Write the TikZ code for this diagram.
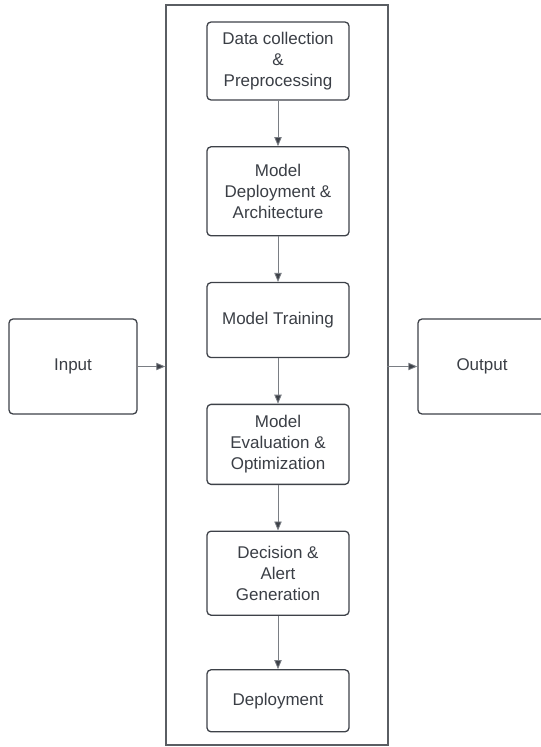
\documentclass[tikz,border=0pt]{standalone}
\usepackage{fontspec}
\setmainfont{Liberation Sans}
\usetikzlibrary{arrows.meta,positioning,fit}
\definecolor{edgegrey}{HTML}{3D4148}
\definecolor{linegrey}{HTML}{7A7E84}
\definecolor{textgrey}{HTML}{3A3E45}

\begin{document}
\begin{tikzpicture}[x=0.3mm,y=-0.3mm,node distance=13.65mm]

\tikzset{stepbox/.style={draw=edgegrey,line width=1.1pt,rounded corners=1.2mm,text=textgrey,align=center,
  font=\fontsize{14.5}{18}\selectfont,minimum width=42.6mm,inner sep=0pt},
sidebox/.style={stepbox,minimum width=38.4mm,minimum height=28.5mm},
frame/.style={draw=edgegrey!85,line width=1.2pt,inner sep=0pt},
flow/.style={draw=linegrey,line width=0.7pt,-{Triangle[length=2.7mm,width=2.2mm,fill=edgegrey]}}}

\useasboundingbox (0,0) rectangle (541,747);

% Outer frame
\coordinate (tl) at (166,5); \coordinate (br) at (388,745);
\node[frame,fit=(tl)(br)] (pipeline) {};

% Pipeline steps
\node[stepbox,minimum height=23.4mm] (s1) at (278,61) {Data collection\\\&\\Preprocessing};
\node[stepbox,minimum height=26.7mm,below=of s1] (s2) {Model\\Deployment \&\\Architecture};
\node[stepbox,minimum height=22.5mm,below=of s2] (s3) {Model Training};
\node[stepbox,minimum height=24mm,below=of s3] (s4) {Model\\Evaluation \&\\Optimization};
\node[stepbox,minimum height=25.2mm,below=of s4] (s5) {Decision \&\\Alert\\Generation};
\node[stepbox,minimum height=18.6mm,below=16mm of s5] (s6) {Deployment};

% Input / Output
\node[sidebox] (input) at (73,366.5) {Input};
\node[sidebox] (output) at (482,366.5) {Output};

% Edges
\draw[flow] (s1) -- (s2); \draw[flow] (s2) -- (s3); \draw[flow] (s3) -- (s4);
\draw[flow] (s4) -- (s5); \draw[flow] (s5) -- (s6);
\draw[flow] (input) -- (input -| pipeline.west);
\draw[flow] ([xshift=-0.6mm]output -| pipeline.east) -- (output);

\end{tikzpicture}
\end{document}
